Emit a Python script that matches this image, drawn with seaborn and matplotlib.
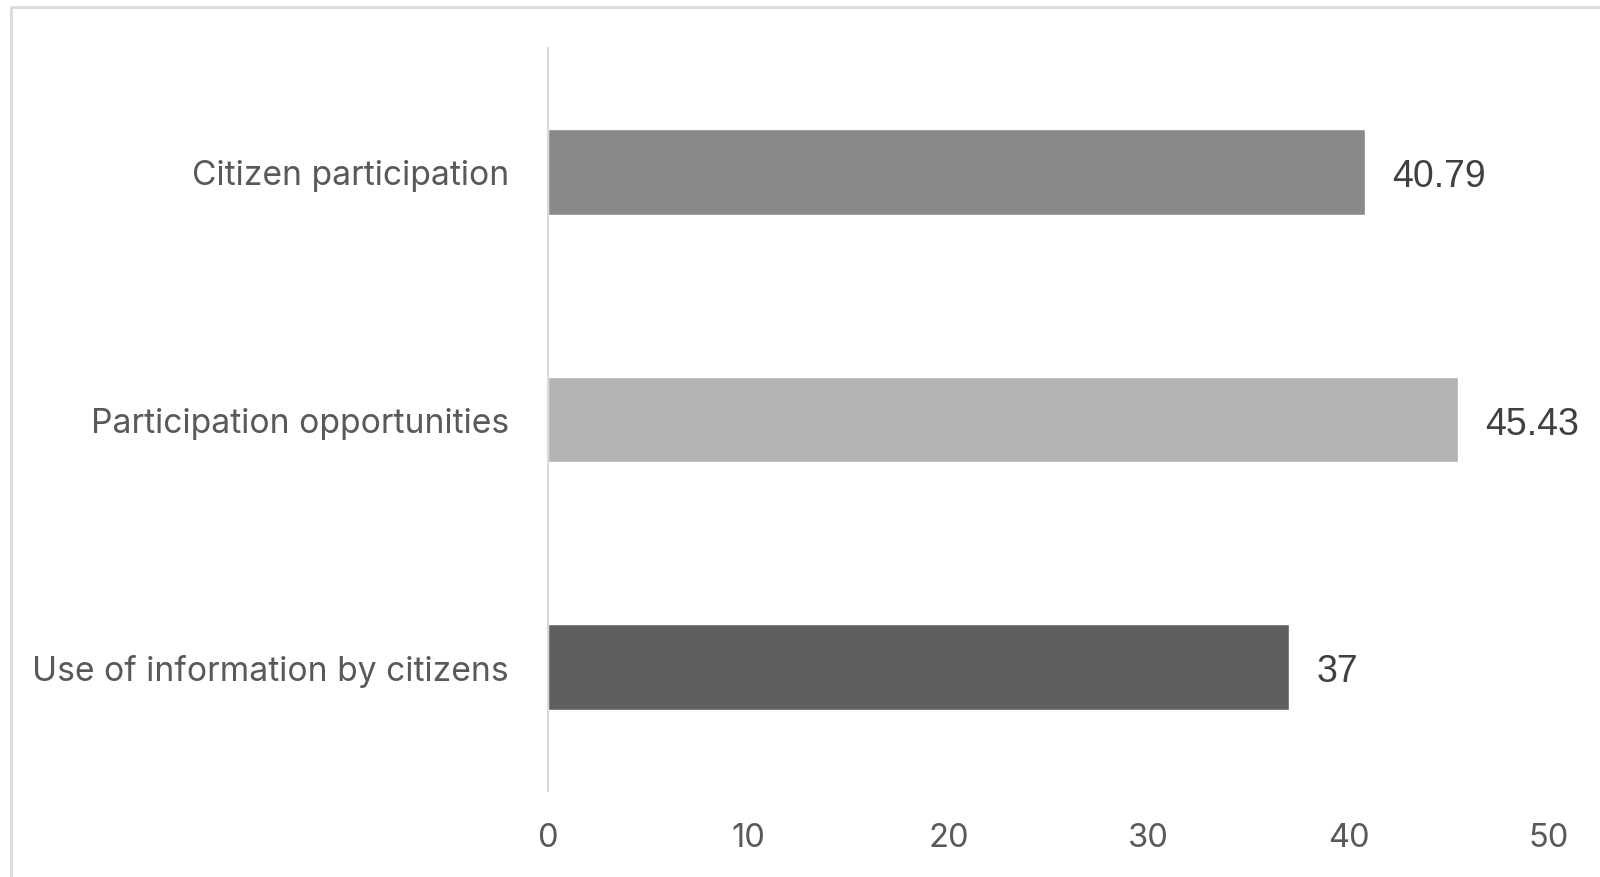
import matplotlib
matplotlib.use("Agg")
import matplotlib.pyplot as plt
import seaborn as sns
import pandas as pd
from matplotlib.patches import Rectangle

categories = ["Citizen participation", "Participation opportunities", "Use of information by citizens"]
values = [40.79, 45.43, 37]
value_labels = ["40.79", "45.43", "37"]
colors = ["#898989", "#b3b3b3", "#5f5f5f"]
x_ticks = [0, 10, 20, 30, 40, 50]

sns.set_theme(style="white")
plt.rcParams['font.family'] = ['Inter', 'DejaVu Sans']

df = pd.DataFrame({"category": categories, "value": values})

W, H = 1600, 878
fig = plt.figure(figsize=(W / 100, H / 100), dpi=100)
fig.patch.set_facecolor("white")
ax = fig.add_axes([548 / W, 1 - 792 / H, (1549 - 548) / W, (792 - 49) / H])

sns.barplot(data=df, y="category", x="value", hue="category", palette=colors,
            orient="h", width=0.345, legend=False, ax=ax, saturation=1)

ax.set_xlim(0, 50)
ax.set_ylim(2.5, -0.5)
ax.set_xticks(x_ticks)
ax.set_xticklabels([str(t) for t in x_ticks], fontsize=23.5, color="#595959")
ax.tick_params(axis="x", length=0, pad=22)
ax.tick_params(axis="y", length=0, pad=28)
for lab in ax.get_yticklabels():
    lab.set_fontsize(24.2)
    lab.set_color("#595959")
ax.set_xlabel("")
ax.set_ylabel("")
for s in ["top", "right", "bottom"]:
    ax.spines[s].set_visible(False)
ax.spines["left"].set_color("#d9d9d9")
ax.spines["left"].set_linewidth(1.5)

for cont, lab in zip(ax.containers, value_labels):
    texts = ax.bar_label(cont, labels=[lab], padding=20, fontsize=27, color="#404040",
                         family=['Liberation Sans', 'DejaVu Sans'])
    for t in texts:
        t.xyann = (20, -3)

fig.add_artist(Rectangle((11 / W, -0.01), 1.02, 1 - 8 / H + 0.01, transform=fig.transFigure,
                         fill=False, edgecolor="#d9d9d9", linewidth=2))

fig.savefig("out.png", dpi=100, facecolor="white")
